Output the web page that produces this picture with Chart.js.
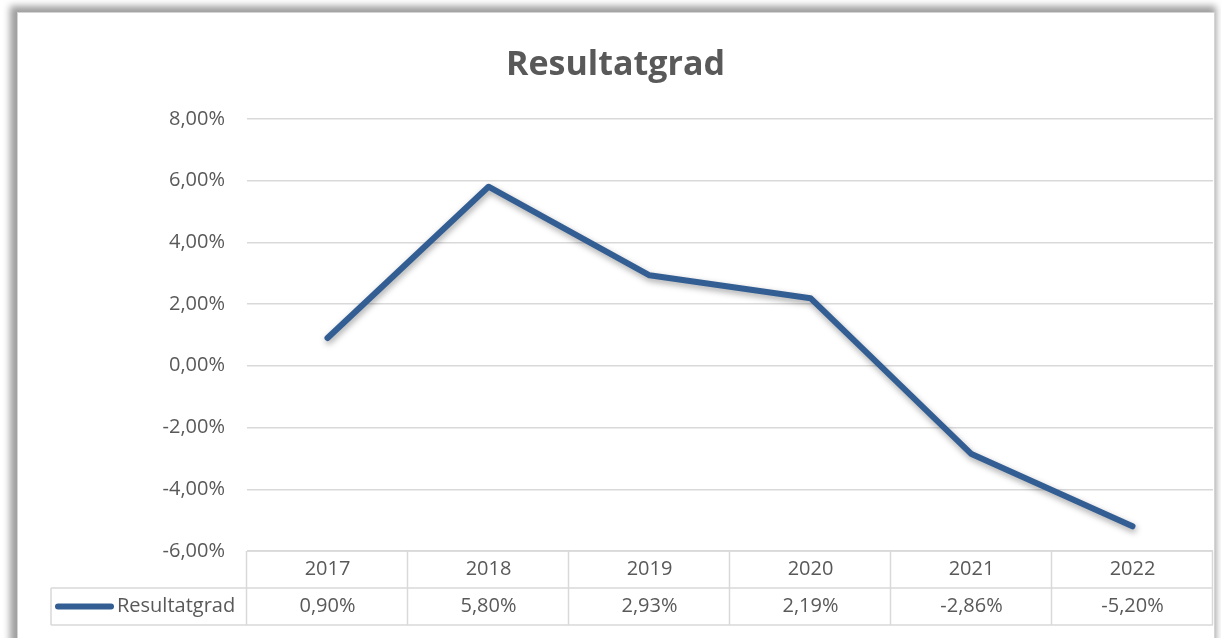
<!DOCTYPE html>
<html lang="no">
<head>
  <meta charset="UTF-8" />
  <title>Resultatgrad</title>
  <style>
    body {
      margin: 0;
      background: #ffffff;
      overflow: hidden;
    }
    #ramme {
      position: absolute;
      left: 17px;
      top: 12px;
      width: 1196px;
      height: 640px;
      background: #ffffff;
      border: 1px solid #d4d4d4;
      box-shadow: -3px -2px 7px 4px rgba(0, 0, 0, 0.38);
    }
    canvas {
      display: block;
    }
  </style>
  <script src="https://cdn.jsdelivr.net/npm/chart.js"></script>
</head>
<body>
  <div id="ramme">
    <canvas id="graf" width="1196" height="625"></canvas>
  </div>

  <script>
    const aar = ["2017", "2018", "2019", "2020", "2021", "2022"];
    const resultatgrad = [0.90, 5.80, 2.93, 2.19, -2.86, -5.20];
    const serieNavn = "Resultatgrad";
    const yMin = -6, yMax = 8, ySteg = 2;

    const blaa = "#335e93";
    const tekstFarge = "#595959";
    const linjeFarge = "#d9d9d9";
    const skrift = "'Open Sans', 'Liberation Sans', sans-serif";

    function prosent(v) {
      return v.toFixed(2).replace(".", ",") + "%";
    }

    // skygge under linja
    const skygge = {
      id: "skygge",
      beforeDatasetsDraw(chart) {
        const ctx = chart.ctx;
        ctx.save();
        ctx.shadowColor = "rgba(0,0,0,0.35)";
        ctx.shadowBlur = 6;
        ctx.shadowOffsetY = 3;
        ctx.shadowOffsetX = 1;
      },
      afterDatasetsDraw(chart) {
        chart.ctx.restore();
      },
    };

    // datatabell under diagrammet
    const datatabell = {
      id: "datatabell",
      afterDraw(chart) {
        const ctx = chart.ctx;
        const x = chart.scales.x;
        const area = chart.chartArea;
        const radH = 37;
        const topp = area.bottom;
        const rad2 = topp + radH;
        const bunn = rad2 + radH;
        const bredde = (area.right - area.left) / aar.length;
        const legVenstre = 33;

        ctx.save();
        ctx.strokeStyle = linjeFarge;
        ctx.lineWidth = 1.5;
        ctx.beginPath();
        ctx.moveTo(area.left, topp);
        ctx.lineTo(area.right, topp);
        ctx.moveTo(legVenstre, rad2);
        ctx.lineTo(area.right, rad2);
        ctx.moveTo(legVenstre, bunn);
        ctx.lineTo(area.right, bunn);
        ctx.moveTo(legVenstre, rad2);
        ctx.lineTo(legVenstre, bunn);
        for (let i = 0; i <= aar.length; i++) {
          const xx = Math.round(area.left + i * bredde) - 0.5;
          ctx.moveTo(xx, topp);
          ctx.lineTo(xx, bunn);
        }
        ctx.stroke();

        ctx.fillStyle = tekstFarge;
        ctx.font = "20px " + skrift;
        ctx.textAlign = "center";
        ctx.textBaseline = "middle";
        aar.forEach((a, i) => {
          const xx = x.getPixelForValue(i);
          ctx.fillText(a, xx, topp + radH / 2);
          ctx.fillText(prosent(resultatgrad[i]), xx, rad2 + radH / 2);
        });

        // forklaring
        ctx.strokeStyle = blaa;
        ctx.lineWidth = 6;
        ctx.lineCap = "round";
        ctx.beginPath();
        ctx.moveTo(legVenstre + 7, rad2 + radH / 2);
        ctx.lineTo(legVenstre + 60, rad2 + radH / 2);
        ctx.stroke();
        ctx.textAlign = "left";
        ctx.fillText(serieNavn, legVenstre + 66, rad2 + radH / 2);
        ctx.restore();
      },
    };

    new Chart(document.getElementById("graf").getContext("2d"), {
      type: "line",
      data: {
        labels: aar,
        datasets: [
          {
            label: serieNavn,
            data: resultatgrad,
            borderColor: blaa,
            backgroundColor: blaa,
            borderWidth: 6,
            borderCapStyle: "round",
            borderJoinStyle: "round",
            pointRadius: 0,
            tension: 0,
          },
        ],
      },
      options: {
        responsive: false,
        animation: false,
        layout: {
          padding: { left: 0, right: 1, top: 0, bottom: 87 },
        },
        plugins: {
          legend: { display: false },
          tooltip: { enabled: false },
          title: {
            display: true,
            text: "Resultatgrad",
            color: tekstFarge,
            font: { family: skrift, size: 34, weight: "bold" },
            padding: { top: 32, bottom: 33 },
          },
        },
        scales: {
          x: {
            display: false,
            offset: true,
          },
          y: {
            min: yMin,
            max: yMax,
            ticks: {
              stepSize: ySteg,
              color: tekstFarge,
              font: { family: skrift, size: 20 },
              padding: 22,
              callback: (v) => prosent(v),
            },
            grid: {
              color: linjeFarge,
              lineWidth: 1.5,
              drawTicks: false,
            },
            border: { display: false },
            afterFit(scale) {
              scale.width = 229;
            },
          },
        },
      },
      plugins: [skygge, datatabell],
    });
  </script>
</body>
</html>
